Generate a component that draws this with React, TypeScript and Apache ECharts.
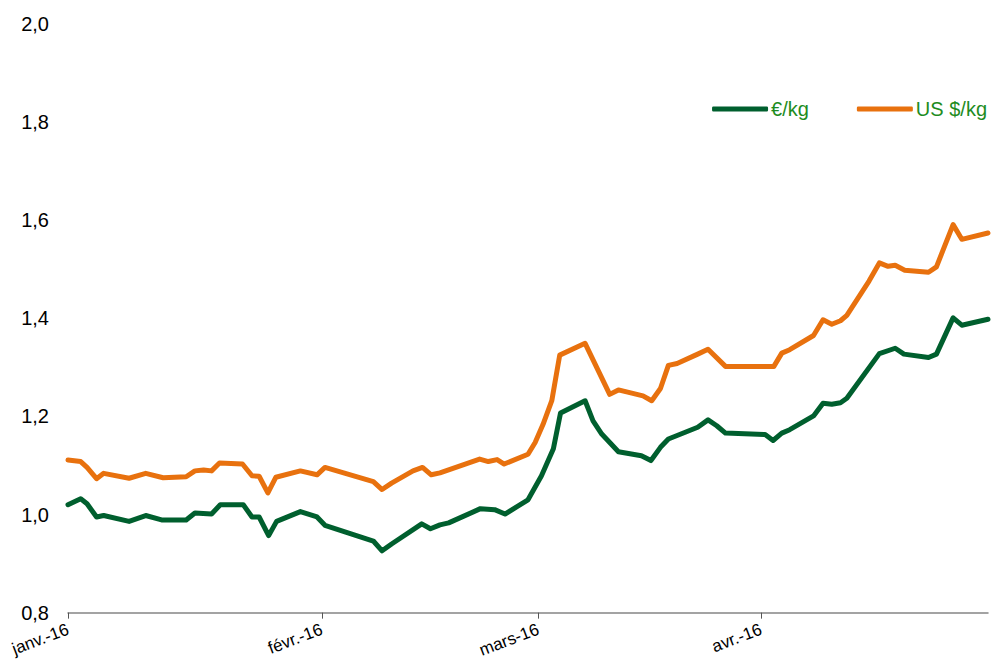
import React, { useEffect, useRef } from "react";
import * as echarts from "echarts";

// x positions are observation slots along the axis (0 = janv.-16, 116 = last observation)
const monthSlots = [0, 32, 59.3, 87.4];
const monthLabels = ["janv.-16", "févr.-16", "mars-16", "avr.-16"];

const yTicks = [0.8, 1.0, 1.2, 1.4, 1.6, 1.8, 2.0];

const euroSlots = [
  0, 1.6, 2.4, 3.6, 4.5, 7.7, 9.8, 11.8, 14.9, 16.0, 18.1, 19.2, 22.1, 23.2, 24.1, 25.3, 26.3, 29.3,
  31.4, 32.4, 38.5, 39.6, 40.8, 44.6, 45.7, 46.9, 48.0, 52.0, 53.8, 55.1, 58.0, 59.7, 61.2, 62.1,
  65.2, 66.2, 67.3, 69.4, 72.3, 73.5, 74.7, 75.7, 79.4, 80.7, 81.8, 82.9, 87.9, 88.9, 90.0, 91.0,
  94.0, 95.2, 96.3, 97.4, 98.2, 102.3, 104.3, 105.4, 108.5, 109.5, 111.6, 112.7, 116.0,
];
const euroValues = [
  1.02, 1.032, 1.022, 0.995, 0.998, 0.986, 0.998, 0.989, 0.989, 1.003, 1.001, 1.02, 1.02, 0.995, 0.995,
  0.957, 0.986, 1.006, 0.995, 0.978, 0.946, 0.926, 0.94, 0.981, 0.971, 0.979, 0.983, 1.012, 1.01, 1.001,
  1.03, 1.079, 1.134, 1.207, 1.232, 1.191, 1.164, 1.128, 1.12, 1.11, 1.137, 1.154, 1.178, 1.193, 1.181,
  1.166, 1.163, 1.151, 1.166, 1.173, 1.201, 1.227, 1.225, 1.228, 1.237, 1.328, 1.339, 1.327, 1.32,
  1.327, 1.401, 1.386, 1.398,
];

const usdSlots = [
  0, 1.6, 2.4, 3.6, 4.5, 7.7, 9.8, 12.0, 14.9, 16.0, 17.1, 18.1, 19.1, 22.0, 23.2, 24.1, 25.2, 26.2,
  29.3, 31.4, 32.4, 38.5, 39.6, 40.8, 43.5, 44.7, 45.8, 46.9, 51.9, 53.0, 54.1, 55.0, 58.0, 58.9, 59.9,
  61.0, 62.0, 65.2, 68.3, 69.4, 72.5, 73.6, 74.7, 75.7, 76.8, 79.4, 80.7, 82.9, 89.0, 90.0, 91.0, 94.0,
  95.2, 96.3, 97.4, 98.2, 101.0, 102.3, 103.4, 104.3, 105.5, 108.5, 109.5, 111.6, 112.7, 116.0,
];
const usdValues = [
  1.111, 1.108, 1.096, 1.073, 1.084, 1.074, 1.084, 1.075, 1.077, 1.089, 1.091, 1.089, 1.105, 1.103,
  1.079, 1.078, 1.044, 1.076, 1.089, 1.081, 1.096, 1.067, 1.051, 1.064, 1.089, 1.096, 1.081, 1.085,
  1.113, 1.108, 1.112, 1.103, 1.123, 1.147, 1.184, 1.232, 1.325, 1.349, 1.245, 1.254, 1.242, 1.232,
  1.257, 1.304, 1.308, 1.327, 1.337, 1.302, 1.302, 1.329, 1.336, 1.365, 1.397, 1.388, 1.395, 1.406,
  1.476, 1.513, 1.506, 1.508, 1.498, 1.494, 1.505, 1.591, 1.561, 1.574,
];

const seriesNames = ["€/kg", "US $/kg"];
const colors = ["#005f2e", "#e8710e"];

const FONT = "Arial, 'Liberation Sans', sans-serif";

export default function App() {
  const ref = useRef<HTMLDivElement>(null);

  useEffect(() => {
    if (!ref.current) return;
    const chart = echarts.init(ref.current, null, { renderer: "svg" });
    const zip = (xs: number[], ys: number[]) => xs.map((x, i) => [x, ys[i]]);
    chart.setOption({
      animation: false,
      backgroundColor: "#ffffff",
      color: colors,
      grid: { left: 68, right: 6, top: 24, bottom: 46, containLabel: false },
      legend: {
        data: seriesNames,
        right: 2,
        top: 94,
        icon: "roundRect",
        itemWidth: 56,
        itemHeight: 5,
        itemGap: 48,
        textStyle: { color: "#1e8c1e", fontSize: 20, fontFamily: FONT, padding: [0, 0, 0, -2] },
      },
      xAxis: {
        type: "value",
        min: 0,
        max: 116,
        axisLine: { show: true, lineStyle: { color: "#858585", width: 1.5 } },
        axisTick: {
          show: true,
          length: 6,
          customValues: monthSlots,
          lineStyle: { color: "#555555", width: 1 },
        },
        splitLine: { show: false },
        axisLabel: {
          customValues: monthSlots,
          rotate: 21,
          margin: 16,
          fontSize: 17,
          fontFamily: FONT,
          color: "#000000",
          formatter: (v: number) => {
            const i = monthSlots.findIndex((m) => Math.abs(m - v) < 0.01);
            return i >= 0 ? monthLabels[i] : "";
          },
        },
      },
      yAxis: {
        type: "value",
        min: 0.8,
        max: 2.0,
        interval: 0.2,
        axisLine: { show: false },
        axisTick: { show: false },
        splitLine: { show: false },
        axisLabel: {
          margin: 19,
          fontSize: 20,
          fontFamily: FONT,
          color: "#000000",
          formatter: (v: number) => {
            const t = yTicks.find((k) => Math.abs(k - v) < 1e-6);
            return (t ?? v).toFixed(1).replace(".", ",");
          },
        },
      },
      series: [
        {
          name: seriesNames[0],
          type: "line",
          data: zip(euroSlots, euroValues),
          showSymbol: false,
          symbol: "none",
          lineStyle: { width: 5, color: colors[0], cap: "round", join: "round" },
          itemStyle: { color: colors[0] },
        },
        {
          name: seriesNames[1],
          type: "line",
          data: zip(usdSlots, usdValues),
          showSymbol: false,
          symbol: "none",
          lineStyle: { width: 5, color: colors[1], cap: "round", join: "round" },
          itemStyle: { color: colors[1] },
        },
      ],
    });
    return () => chart.dispose();
  }, []);

  return (
    <div
      ref={ref}
      style={{ width: 994, height: 660, position: "absolute", left: 0, top: 0, background: "#fff" }}
    />
  );
}
